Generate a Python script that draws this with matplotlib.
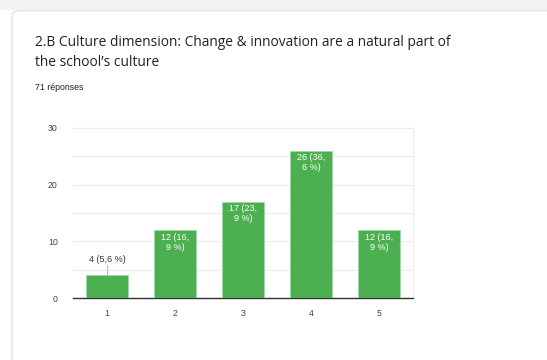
import matplotlib
matplotlib.use("Agg")
import matplotlib.pyplot as plt
from matplotlib.patches import FancyBboxPatch, Rectangle

categories = ["1", "2", "3", "4", "5"]
counts = [4, 12, 17, 26, 12]
percents = ["5,6", "16,\n9", "23,\n9", "36,\n6", "16,\n9"]
y_ticks = [0, 10, 20, 30]

title_lines = ["2.B Culture dimension: Change & innovation are a natural part of",
               "the school\u2019s culture"]
subtitle = "71 réponses"

bar_color = "#4caf50"
font = ["Liberation Sans", "DejaVu Sans"]

fig = plt.figure(figsize=(5.47, 3.60), dpi=100)
fig.patch.set_facecolor("white")

# page background band and card outline
fig.patches.append(Rectangle((0, 1 - 10 / 360), 1, 10 / 360, transform=fig.transFigure,
                             facecolor="#f3f3f3", edgecolor="none", zorder=0))
fig.patches.append(FancyBboxPatch((12 / 547, -0.05), 1.0, 1 - 10 / 360 + 0.05 - 0.002,
                                  boxstyle="round,pad=0,rounding_size=0.015",
                                  transform=fig.transFigure, facecolor="white",
                                  edgecolor="#dadce0", linewidth=0.8, zorder=1))

for i, line in enumerate(title_lines):
    fig.text(35 / 547, 1 - (42 + 20 * i) / 360, line, ha="left", va="center", fontsize=9.9,
             color="#202124", family=["Open Sans", "DejaVu Sans"], zorder=3)
fig.text(35 / 547, 1 - 88 / 360, subtitle, ha="left", va="center", fontsize=6.3,
         color="#202124", family=font, zorder=3)

ax = fig.add_axes([73 / 547, 1 - 298 / 360, 340 / 547, 170 / 360], zorder=2)
ax.set_facecolor("white")
x = list(range(len(categories)))
ax.bar(x, counts, width=0.63, color=bar_color, edgecolor="#a5d6a7", linewidth=0.6, zorder=3)

ax.set_xlim(-0.5, len(categories) - 0.5)
ax.set_ylim(0, 30)
ax.set_yticks(y_ticks)
ax.set_yticks([5, 15, 25], minor=True)
ax.yaxis.grid(True, which="both", color="#ececec", linewidth=0.8, zorder=0)
ax.set_xticks(x)
ax.set_xticklabels(categories)
ax.tick_params(axis="both", which="both", length=0, labelsize=6.3, labelcolor="#444444")
ax.tick_params(axis="x", pad=8)
ax.tick_params(axis="y", pad=11)
for lbl in ax.get_xticklabels() + ax.get_yticklabels():
    lbl.set_family(font)
ax.spines["left"].set_visible(False)
ax.spines["right"].set_color("#ececec")
ax.spines["top"].set_color("#ececec")
ax.spines["bottom"].set_color("#333333")
ax.spines["bottom"].set_linewidth(1.0)

for xi, c, p in zip(x, counts, percents):
    text = f"{c} ({p} %)"
    if c < 8:
        ax.plot([xi, xi], [c, c + 1.8], color="#bbbbbb", linewidth=0.8, zorder=4)
        ax.text(xi, c + 2.0, text, ha="center", va="bottom", fontsize=6.5,
                color="#333333", family=font, zorder=5)
    else:
        ax.text(xi, c - 0.5, text, ha="center", va="top", fontsize=6.5,
                color="white", family=font, linespacing=1.1, zorder=5)

fig.savefig("out.png", dpi=100)
